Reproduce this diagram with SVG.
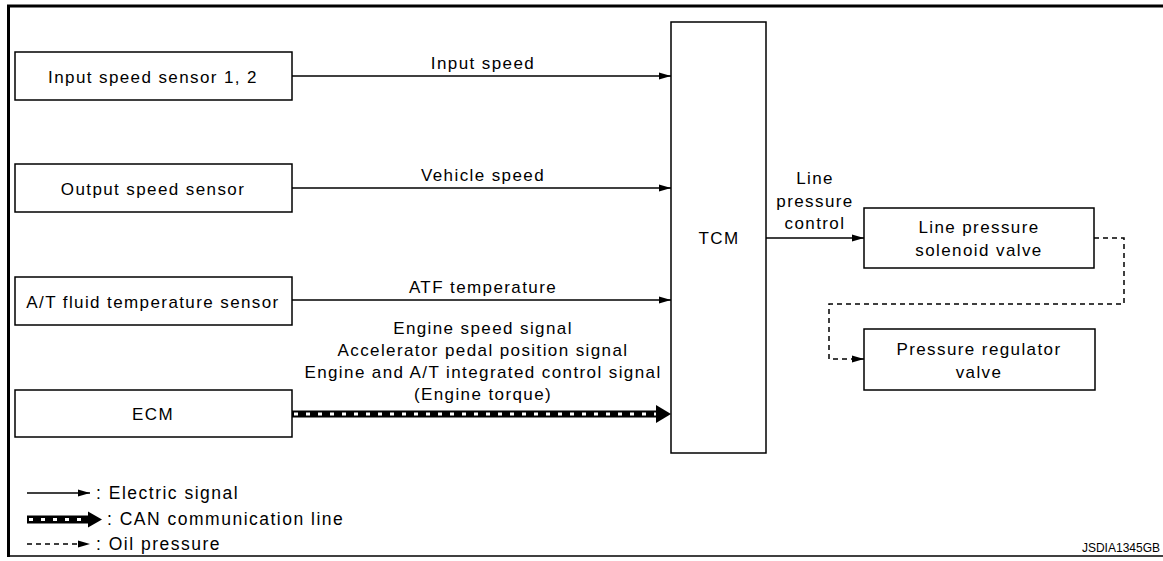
<svg xmlns="http://www.w3.org/2000/svg" width="1163" height="561" viewBox="0 0 1163 561">
<defs>
<style>
.box{fill:#fff;stroke:#000;stroke-width:1.5}
.t{font-family:"Liberation Sans",Arial,sans-serif;font-size:17px;letter-spacing:1.4px;fill:#000;text-anchor:middle}
.l{font-family:"Liberation Sans",Arial,sans-serif;font-size:17.5px;letter-spacing:1.5px;fill:#000}
.w{stroke:#000;stroke-width:1.5;fill:none}
.d{stroke:#000;stroke-width:1.5;fill:none;stroke-dasharray:5 4}
</style>
<marker id="ah" markerWidth="12" markerHeight="8" refX="12" refY="4" orient="auto" markerUnits="userSpaceOnUse">
<path d="M0,0.5 L12,4 L0,7.5 Z" fill="#000"/>
</marker>
</defs>
<rect width="1163" height="561" fill="#fff"/>
<g id="frame">
<line x1="7" y1="6" x2="1163" y2="6" stroke="#000" stroke-width="3"/>
<line x1="8.5" y1="5" x2="8.5" y2="557" stroke="#000" stroke-width="3"/>
<line x1="8" y1="556" x2="1163" y2="556" stroke="#000" stroke-width="1.5"/>
</g>
<g id="input-speed-sensor"><rect class="box" x="15" y="52" width="277" height="48"/><text class="t" x="153" y="83">Input speed sensor 1, 2</text></g>
<g id="output-speed-sensor"><rect class="box" x="15" y="164" width="277" height="48"/><text class="t" x="153" y="195">Output speed sensor</text></g>
<g id="atf-temp-sensor"><rect class="box" x="15" y="277" width="277" height="48"/><text class="t" x="153" y="308">A/T fluid temperature sensor</text></g>
<g id="ecm"><rect class="box" x="15" y="390" width="277" height="47"/><text class="t" x="153" y="420">ECM</text></g>
<g id="tcm"><rect class="box" x="671" y="22" width="95" height="431"/><text class="t" x="719" y="244">TCM</text></g>
<g id="lp-solenoid"><rect class="box" x="864" y="208" width="230" height="60"/><text class="t" x="979" y="233">Line pressure</text><text class="t" x="979" y="256">solenoid valve</text></g>
<g id="pressure-regulator"><rect class="box" x="864" y="329" width="231" height="61"/><text class="t" x="979" y="355">Pressure regulator</text><text class="t" x="979" y="378">valve</text></g>
<g id="connectors">
<line class="w" x1="292" y1="76" x2="671" y2="76" marker-end="url(#ah)"/>
<text class="t" x="483" y="69">Input speed</text>
<line class="w" x1="292" y1="188" x2="671" y2="188" marker-end="url(#ah)"/>
<text class="t" x="483" y="181">Vehicle speed</text>
<line class="w" x1="292" y1="300" x2="671" y2="300" marker-end="url(#ah)"/>
<text class="t" x="483" y="293">ATF temperature</text>
<rect x="292" y="410.5" width="366" height="7" fill="#000"/>
<line x1="294" y1="414" x2="656" y2="414" stroke="#fff" stroke-width="3" stroke-dasharray="4 8"/>
<path d="M656,405 L671,414 L656,423 Z" fill="#000"/>
<text class="t" x="483" y="334">Engine speed signal</text>
<text class="t" x="483" y="356">Accelerator pedal position signal</text>
<text class="t" x="483" y="378">Engine and A/T integrated control signal</text>
<text class="t" x="483" y="400">(Engine torque)</text>
<line class="w" x1="766" y1="238" x2="864" y2="238" marker-end="url(#ah)"/>
<text class="t" x="815" y="184">Line</text>
<text class="t" x="815" y="207">pressure</text>
<text class="t" x="815" y="229">control</text>
<path class="d" d="M1094,238 H1124 V304 H829 V359 H864" marker-end="url(#ah)"/>
</g>
<g id="legend">
<line class="w" x1="27" y1="493" x2="90" y2="493" marker-end="url(#ah)"/>
<text class="l" x="96" y="499">: Electric signal</text>
<rect x="27" y="515.5" width="63" height="8" fill="#000"/>
<line x1="29" y1="519.5" x2="88" y2="519.5" stroke="#fff" stroke-width="3" stroke-dasharray="4 8"/>
<path d="M88,511.5 L102,519.5 L88,527.5 Z" fill="#000"/>
<text class="l" x="107" y="525">: CAN communication line</text>
<line class="d" x1="27" y1="544" x2="90" y2="544" stroke-dasharray="4 3" marker-end="url(#ah)"/>
<text class="l" x="96" y="550">: Oil pressure</text>
<text x="1160" y="552" font-family="Liberation Sans,Arial,sans-serif" font-size="12" text-anchor="end">JSDIA1345GB</text>
</g>
</svg>
